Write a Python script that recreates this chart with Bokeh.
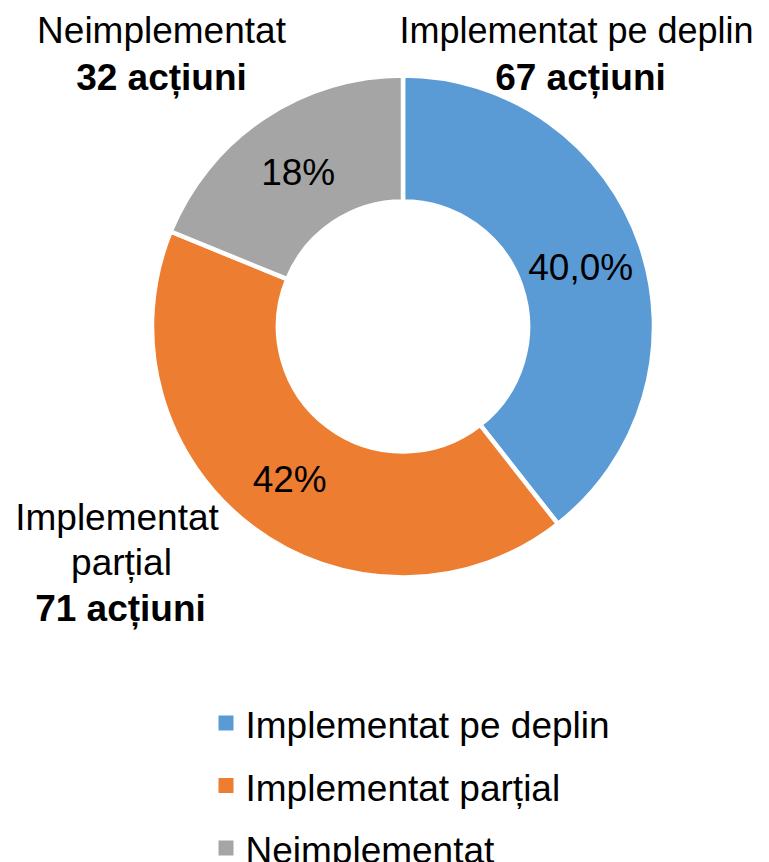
import math
from bokeh.plotting import figure
from bokeh.models import Range1d, ColumnDataSource
from bokeh.core.properties import value
from bokeh.embed import file_html
from bokeh.resources import INLINE

# ---- data ----
categories = ["Implementat pe deplin", "Implementat parțial", "Neimplementat"]
counts = [67, 71, 32]
pct_labels = ["40,0%", "42%", "18%"]
count_labels = ["67 acțiuni", "71 acțiuni", "32 acțiuni"]
colors = ["#5B9BD5", "#ED7D31", "#A5A5A5"]

W, H = 769, 862
FONT = "Liberation Sans"
TDY = 10  # compensation for text baseline placement


def py(page_y):
    return H - page_y


def ty(page_y):
    return H - page_y + TDY


p = figure(width=W, height=H, output_backend="svg", toolbar_location=None,
           x_range=Range1d(0, W), y_range=Range1d(0, H),
           min_border=0, outline_line_color=None)
p.axis.visible = False
p.xgrid.visible = False
p.ygrid.visible = False
p.background_fill_color = "white"
p.border_fill_color = "white"

# donut
cx, cy = 402.5, py(326)
total = float(sum(counts))
starts, ends, mids = [], [], []
cum = 0.0
for c in counts:
    a0 = math.pi / 2 - 2 * math.pi * cum / total
    cum += c
    a1 = math.pi / 2 - 2 * math.pi * cum / total
    starts.append(a0)
    ends.append(a1)
    mids.append((a0 + a1) / 2)

src = ColumnDataSource(dict(x=[cx] * 3, y=[cy] * 3, start=starts, end=ends,
                            color=colors, cat=categories))
p.annular_wedge(x="x", y="y", inner_radius=125, outer_radius=251,
                inner_radius_units="screen", outer_radius_units="screen",
                start_angle="start", end_angle="end", direction="clock",
                fill_color="color", line_color="white", line_width=4.5,
                source=src)

# percentage labels inside ring
r_mid = 188
lx = [cx + r_mid * math.cos(m) for m in mids]
ly = [cy + r_mid * math.sin(m) - 12.5 + TDY for m in mids]
p.text(x=lx, y=ly, text=pct_labels, text_align="center",
       text_baseline="alphabetic", text_font=value(FONT),
       text_font_size="37px", text_color="black")

# outside category labels (name + count)
p.text(x=[576], y=[ty(40)], text=[categories[0]], text_align="center",
       text_baseline="alphabetic", text_font=value(FONT), text_font_size="36px",
       text_color="black")
p.text(x=[580], y=[ty(87)], text=[count_labels[0]], text_align="center",
       text_baseline="alphabetic", text_font=value(FONT), text_font_size="37px",
       text_font_style="bold", text_color="black")
p.text(x=[161], y=[ty(40)], text=[categories[2]], text_align="center",
       text_baseline="alphabetic", text_font=value(FONT), text_font_size="37px",
       text_color="black")
p.text(x=[161], y=[ty(87)], text=[count_labels[2]], text_align="center",
       text_baseline="alphabetic", text_font=value(FONT), text_font_size="37px",
       text_font_style="bold", text_color="black")
name_parts = categories[1].split(" ")
p.text(x=[116.5, 121], y=[ty(527), ty(572)], text=name_parts,
       text_align="center", text_baseline="alphabetic", text_font=value(FONT),
       text_font_size="37px", text_color="black")
p.text(x=[120], y=[ty(618)], text=[count_labels[1]], text_align="center",
       text_baseline="alphabetic", text_font=value(FONT), text_font_size="37px",
       text_font_style="bold", text_color="black")

# legend (manual)
leg_y_page = [722.5, 785, 847.5]
leg_src = ColumnDataSource(dict(
    x=[225.5] * 3, y=[py(v) for v in leg_y_page],
    ty=[ty(v + 12.5) for v in leg_y_page], tx=[245] * 3,
    color=colors, cat=categories))
p.rect(x="x", y="y", width=15, height=15, width_units="screen",
       height_units="screen", fill_color="color", line_color=None,
       source=leg_src)
p.text(x="tx", y="ty", text="cat", text_align="left",
       text_baseline="alphabetic", text_font=value(FONT),
       text_font_size="37px", text_color="black", source=leg_src)

open("out.html", "w").write(file_html(p, INLINE))
